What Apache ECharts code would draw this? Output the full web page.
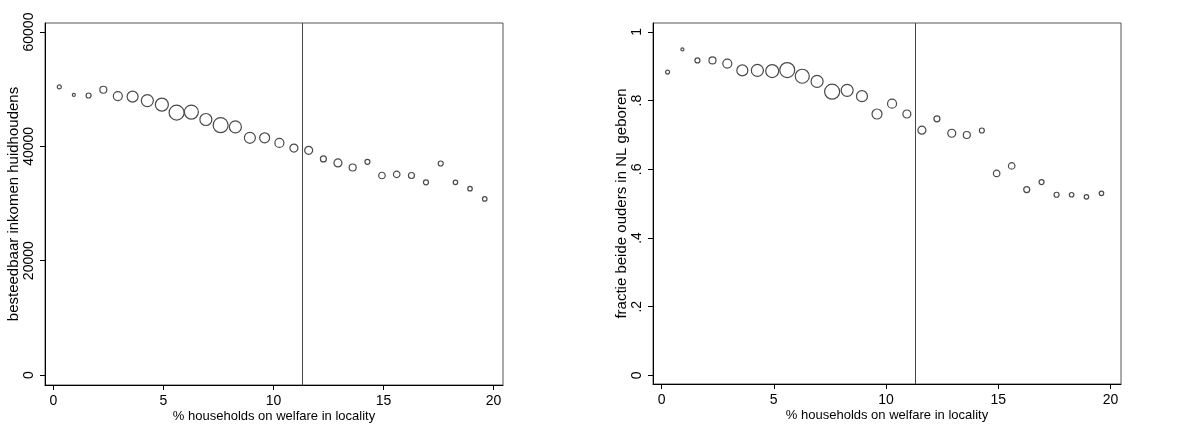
<!DOCTYPE html>
<html>
<head>
<meta charset="utf-8">
<script src="https://cdn.jsdelivr.net/npm/echarts@6/dist/echarts.min.js"></script>
<style>
html,body{margin:0;padding:0;background:#fff;}
#chart{width:1187px;height:425px;}
</style>
</head>
<body>
<div id="chart"></div>
<script>
// % households on welfare in locality (bin centres)
const welfarePct = [0.27, 0.93, 1.6, 2.27, 2.93, 3.6, 4.27, 4.93, 5.6, 6.27,
  6.93, 7.6, 8.27, 8.93, 9.6, 10.27, 10.93, 11.6, 12.27, 12.93,
  13.6, 14.27, 14.93, 15.6, 16.27, 16.93, 17.6, 18.27, 18.93, 19.6];
// besteedbaar inkomen huidhoudens
const income = [50400, 49000, 48900, 49900, 48800, 48700, 48000, 47300, 45900, 46000,
  44700, 43700, 43400, 41500, 41500, 40600, 39700, 39300, 37800, 37100,
  36300, 37300, 34900, 35100, 34900, 33700, 37000, 33700, 32600, 30800];
// fractie beide ouders in NL geboren
const dutchParents = [0.883, 0.949, 0.917, 0.917, 0.908, 0.888, 0.888, 0.886, 0.889, 0.871,
  0.856, 0.826, 0.830, 0.813, 0.761, 0.791, 0.761, 0.714, 0.747, 0.705,
  0.700, 0.713, 0.588, 0.610, 0.541, 0.563, 0.526, 0.526, 0.520, 0.530];
// bin weight (marker diameter)
const binWeight = [4, 3, 5, 7, 9, 11, 12, 13, 15, 14, 12, 15, 12, 11, 10, 9, 8, 8, 6, 8,
  7, 5, 6.5, 6.5, 6, 5, 5, 4.5, 4.5, 4.5];
const cutoff = 11.3;
const xTicks = [0, 5, 10, 15, 20];
const yTicksIncome = [0, 20000, 40000, 60000];
const yTicksShare = [0, 0.2, 0.4, 0.6, 0.8, 1];

const FONT = '"Liberation Sans", Arial, sans-serif';
const chart = echarts.init(document.getElementById('chart'), null, {renderer: 'canvas'});

function xAxis(gi) {
  return {
    type: 'value', gridIndex: gi, min: -0.38, max: gi === 0 ? 20.43 : 20.47,
    name: '% households on welfare in locality', nameLocation: 'middle', nameGap: 25,
    nameMoveOverlap: false,
    nameTextStyle: {fontFamily: FONT, fontSize: 13, color: '#000'},
    splitLine: {show: false},
    axisLine: {show: true, onZero: false, lineStyle: {color: '#000', width: 1}},
    axisTick: {show: true, length: 5, customValues: xTicks, lineStyle: {color: '#000'}},
    axisLabel: {customValues: xTicks, fontFamily: FONT, fontSize: 14, color: '#000', margin: 9}
  };
}
function yAxis(gi, min, max, ticks, name, fmt, gap) {
  return {
    type: 'value', gridIndex: gi, min: min, max: max,
    name: name, nameLocation: 'middle', nameGap: gap,
    nameTextStyle: {fontFamily: FONT, fontSize: 15, color: '#000'},
    splitLine: {show: false},
    axisLine: {show: true, onZero: false, lineStyle: {color: '#000', width: 1}},
    axisTick: {show: true, length: 5, customValues: ticks, lineStyle: {color: '#000'}},
    axisLabel: {customValues: ticks, rotate: 90, fontFamily: FONT, fontSize: 14, color: '#000', margin: 9,
      formatter: fmt}
  };
}
function series(gi, ys) {
  return {
    type: 'scatter', xAxisIndex: gi, yAxisIndex: gi,
    data: welfarePct.map((x, i) => [x, ys[i], binWeight[i]]),
    symbol: 'circle',
    symbolSize: d => d[2],
    itemStyle: {color: 'rgba(255,255,255,0)', borderColor: '#4a4a4a', borderWidth: 1.2, opacity: 1},
    emphasis: {disabled: true},
    silent: true,
    markLine: {
      silent: true, symbol: ['none', 'none'], label: {show: false},
      lineStyle: {color: '#444', width: 1, type: 'solid'},
      data: [{xAxis: cutoff}], animation: false
    }
  };
}

chart.setOption({
  animation: false,
  backgroundColor: '#fff',
  grid: [
    {left: 45, top: 23, width: 458, height: 362, show: true, borderColor: '#555', borderWidth: 1,
      backgroundColor: '#fff', containLabel: false, outerBoundsMode: 'none'},
    {left: 653, top: 23, width: 468, height: 361, show: true, borderColor: '#555', borderWidth: 1,
      backgroundColor: '#fff', containLabel: false, outerBoundsMode: 'none'}
  ],
  xAxis: [xAxis(0), xAxis(1)],
  yAxis: [
    yAxis(0, -1750, 61580, yTicksIncome, 'besteedbaar inkomen huidhoudens', v => String(v), 24),
    yAxis(1, -0.025, 1.026, yTicksShare, 'fractie beide ouders in NL geboren',
      v => { const s = String(Math.round(v * 10) / 10); return s.replace(/^0\./, '.'); }, 24)
  ],
  series: [series(0, income), series(1, dutchParents)]
});
</script>
</body>
</html>
